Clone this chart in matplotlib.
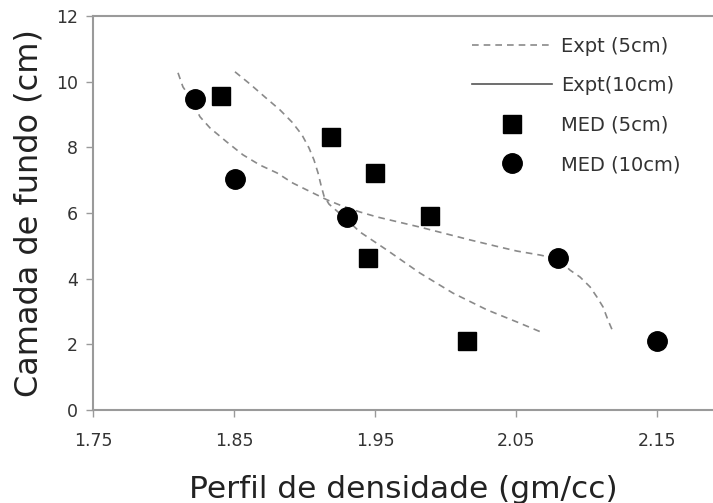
import matplotlib
matplotlib.use("Agg")
import matplotlib.pyplot as plt
from matplotlib.lines import Line2D

# Experimental density profiles (density, layer height)
expt5_x = [1.8507, 1.8613, 1.8720, 1.8826, 1.8911, 1.8982, 1.9032, 1.9067,
           1.9096, 1.9117, 1.9138, 1.9174, 1.9230, 1.9301, 1.9394, 1.9585,
           1.9819, 2.0053, 2.0294, 2.0507, 2.0691]
expt5_y = [10.30, 9.93, 9.53, 9.14, 8.77, 8.38, 7.98, 7.62,
           7.22, 6.85, 6.52, 6.27, 6.06, 5.79, 5.42, 4.87,
           4.17, 3.56, 3.05, 2.68, 2.35]

expt10_x = [1.8103, 1.8138, 1.8188, 1.8259, 1.8330, 1.8450, 1.8564, 1.8684,
            1.8805, 1.8918, 1.9060, 1.9160, 1.9252, 1.9394, 1.9514, 1.9819,
            2.0174, 2.0387, 2.0507, 2.0670, 2.0798, 2.0883, 2.0954, 2.1025,
            2.1074, 2.1117, 2.1152, 2.1188]
expt10_y = [10.27, 9.84, 9.53, 8.93, 8.59, 8.16, 7.77, 7.46,
            7.22, 6.91, 6.61, 6.40, 6.24, 6.03, 5.88, 5.57,
            5.18, 4.96, 4.84, 4.72, 4.60, 4.26, 4.05, 3.75,
            3.44, 3.14, 2.74, 2.38]

# MED simulation results
med5_x = [1.841, 1.919, 1.950, 1.989, 1.945, 2.015]
med5_y = [9.57, 8.32, 7.23, 5.91, 4.63, 2.10]

med10_x = [1.822, 1.851, 1.930, 2.080, 2.150]
med10_y = [9.48, 7.04, 5.88, 4.63, 2.10]

x_ticks = [1.75, 1.85, 1.95, 2.05, 2.15]
y_ticks = [0, 2, 4, 6, 8, 10, 12]

fig = plt.figure(figsize=(7.13, 5.03), dpi=100)
ax = fig.add_axes([0.1304, 0.1849, 0.8696, 0.7833])

curve_color = "#8a8a8a"
dash = (0, (4, 3))
ax.plot(expt5_x, expt5_y, linestyle=dash, color=curve_color, lw=1.2)
ax.plot(expt10_x, expt10_y, linestyle=dash, color=curve_color, lw=1.2)
ax.plot(med5_x, med5_y, linestyle="none", marker="s", ms=13, color="black")
ax.plot(med10_x, med10_y, linestyle="none", marker="o", ms=14, color="black")

ax.set_xlim(1.75, 2.1897)
ax.set_ylim(0, 12)
ax.set_xticks(x_ticks)
ax.set_xticklabels([f"{v:.2f}" for v in x_ticks])
ax.set_yticks(y_ticks)

spine_color = "#9a9a9a"
for side in ("left", "top", "bottom"):
    ax.spines[side].set_color(spine_color)
    ax.spines[side].set_linewidth(1.5)
ax.spines["right"].set_visible(False)
ax.tick_params(direction="out", length=5, width=1, color=spine_color,
               labelsize=12.5, labelcolor="#333333")
ax.tick_params(axis="x", pad=11)
ax.tick_params(axis="y", pad=6)

ax.set_xlabel("Perfil de densidade (gm/cc)", fontsize=22.5, color="#222222",
              labelpad=18)
ax.set_ylabel("Camada de fundo (cm)", fontsize=23, color="#222222",
              labelpad=8)

handles = [
    Line2D([], [], linestyle=dash, color=curve_color, lw=1.2),
    Line2D([], [], linestyle="-", color="#555555", lw=1.2),
    Line2D([], [], linestyle="none", marker="s", ms=13, color="black"),
    Line2D([], [], linestyle="none", marker="o", ms=14, color="black"),
]
labels = ["Expt (5cm)", "Expt(10cm)", "MED (5cm)", "MED (10cm)"]
leg = ax.legend(handles, labels, loc="upper left",
                bbox_to_anchor=(0.611, 0.947), frameon=False, fontsize=14,
                handlelength=4.1, handletextpad=0.5, labelspacing=1.05,
                borderpad=0, borderaxespad=0)
for t in leg.get_texts():
    t.set_color("#333333")

fig.savefig("out.png", dpi=100)
